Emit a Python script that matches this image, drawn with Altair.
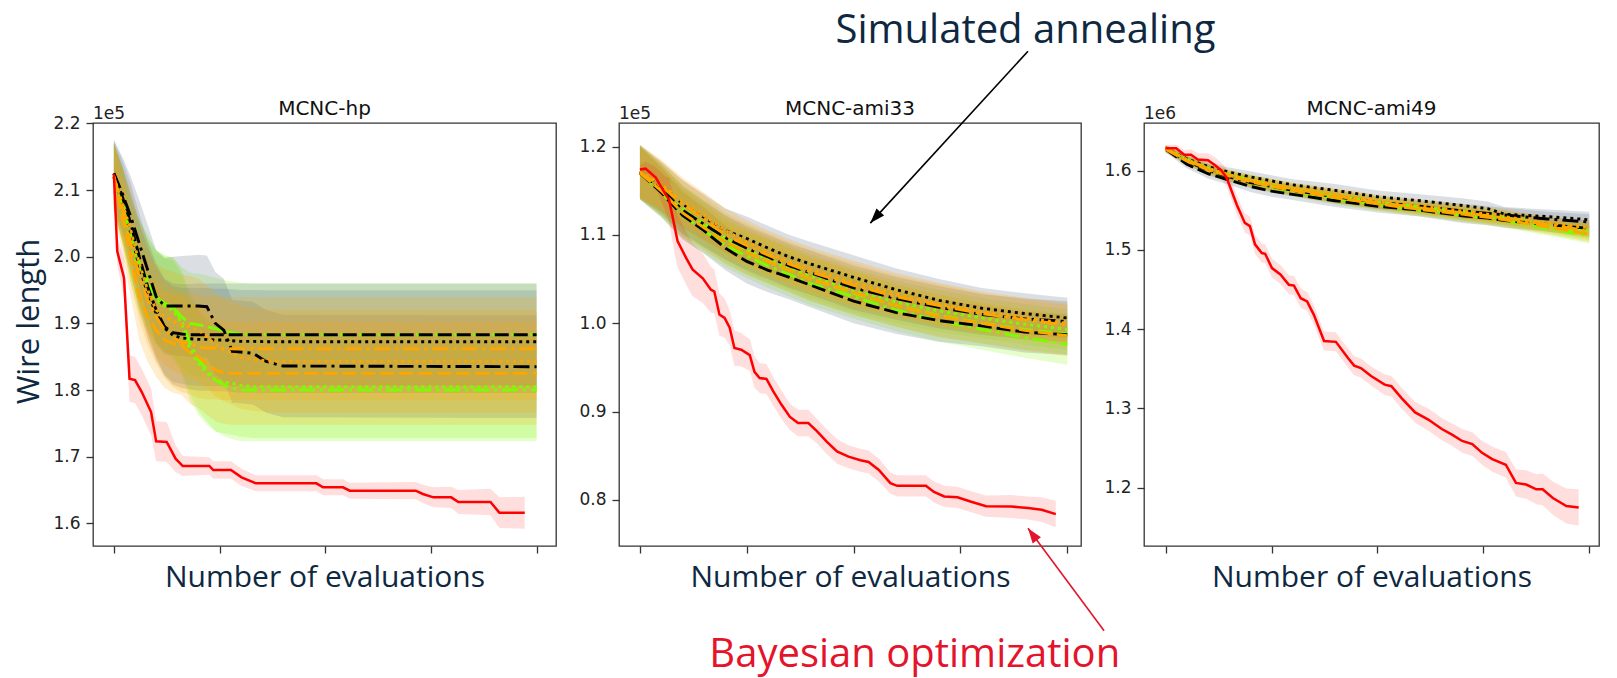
import altair as alt
import pandas as pd

NAVY = "#0e2841"
RED_TEXT = "#e3142b"

STYLES = ["dashed", "dotted", "dashdot"]
DASHES = [[14, 5], [3, 4], [16, 5, 3, 5]]
GROUPS = ["green", "black", "orange"]  # drawing order
LINE_COLORS = {"green": "#7cfc00", "black": "#000000", "orange": "#ffa500"}
BAND_COLORS = {"green": "#7cfc00", "black": "#708090", "orange": "#ffa500"}
BAND_OPACITY = {"green": 0.2, "black": 0.25, "orange": 0.2}
X_TICKS = [0, 25, 50, 75, 100]

# ---------------- MCNC-hp (x 1e5) ----------------
HP_SA_X = [0, 2, 4, 6, 8, 10, 12, 14, 16, 18, 20, 22, 24, 26, 28, 30, 33, 36, 40, 100]
HP_BLACK_DASHED = [2.125, 2.09, 2.05, 2.00, 1.955, 1.92, 1.895, 1.886, 1.884, 1.883, 1.883, 1.883, 1.883, 1.883, 1.883, 1.883, 1.883, 1.883, 1.883, 1.883]
HP_BLACK_DOTTED = [2.12, 2.08, 2.035, 1.985, 1.945, 1.915, 1.893, 1.882, 1.878, 1.877, 1.876, 1.876, 1.875, 1.875, 1.874, 1.873, 1.873, 1.8725, 1.8725, 1.8725]
HP_BLACK_DASHDOT = [2.125, 2.095, 2.06, 2.02, 1.98, 1.94, 1.926, 1.926, 1.926, 1.926, 1.926, 1.925, 1.90, 1.89, 1.858, 1.857, 1.855, 1.843, 1.836, 1.835]
HP_ORANGE_DASHDOT = [2.12, 2.075, 2.02, 1.97, 1.935, 1.91, 1.89, 1.878, 1.872, 1.87, 1.865, 1.863, 1.863, 1.862, 1.862, 1.862, 1.862, 1.862, 1.862, 1.862]
HP_ORANGE_DOTTED = [2.12, 2.08, 2.04, 1.99, 1.95, 1.92, 1.91, 1.903, 1.898, 1.895, 1.89, 1.88, 1.868, 1.86, 1.855, 1.849, 1.846, 1.844, 1.843, 1.843]
HP_ORANGE_DASHED = [2.12, 2.06, 2.00, 1.94, 1.91, 1.89, 1.875, 1.87, 1.868, 1.855, 1.85, 1.84, 1.83, 1.826, 1.825, 1.825, 1.825, 1.825, 1.825, 1.825]
HP_GREEN_DASHED = [2.12, 2.08, 2.03, 1.99, 1.965, 1.94, 1.93, 1.925, 1.91, 1.90, 1.898, 1.895, 1.892, 1.888, 1.886, 1.884, 1.883, 1.883, 1.883, 1.883]
HP_GREEN_DOTTED = [2.12, 2.075, 2.02, 1.98, 1.955, 1.935, 1.926, 1.92, 1.90, 1.86, 1.84, 1.825, 1.815, 1.812, 1.81, 1.807, 1.805, 1.805, 1.805, 1.805]
HP_GREEN_DASHDOT = [2.12, 2.08, 2.03, 1.99, 1.96, 1.94, 1.93, 1.925, 1.905, 1.87, 1.845, 1.83, 1.815, 1.808, 1.803, 1.80, 1.80, 1.80, 1.80, 1.80]
HP_SA_STD = [0.05, 0.055, 0.06, 0.065, 0.068, 0.07, 0.072, 0.074, 0.075, 0.076, 0.077, 0.077, 0.077, 0.077, 0.077, 0.077, 0.077, 0.077, 0.077, 0.077]

HP_BO_X = [0, 0.8, 2.4, 3.7, 5, 6.6, 8.8, 10, 12.5, 14.6, 16.3, 22.6, 23.5, 27.7, 30.2, 33.6, 47.9, 49.5, 54.2, 55.8, 71.4, 73.1, 75.6, 79.8, 81.5, 89.1, 91.2, 97.2]
HP_BO = [2.124, 2.008, 1.968, 1.817, 1.815, 1.797, 1.767, 1.723, 1.722, 1.697, 1.686, 1.686, 1.68, 1.68, 1.669, 1.66, 1.66, 1.654, 1.654, 1.649, 1.649, 1.644, 1.639, 1.639, 1.632, 1.632, 1.616, 1.616]
HP_BO_STD = [0.01, 0.02, 0.03, 0.035, 0.035, 0.035, 0.035, 0.03, 0.03, 0.02, 0.015, 0.013, 0.013, 0.013, 0.013, 0.012, 0.012, 0.012, 0.012, 0.012, 0.013, 0.014, 0.015, 0.016, 0.018, 0.02, 0.023, 0.024]

# ---------------- MCNC-ami33 (x 1e5) ----------------
AMI33_SA_X = [0, 5, 10, 15, 20, 25, 30, 35, 40, 50, 60, 70, 80, 90, 100]
AMI33_BLACK_DASHED = [1.170, 1.148, 1.122, 1.105, 1.085, 1.070, 1.060, 1.052, 1.043, 1.025, 1.012, 1.003, 0.997, 0.990, 0.987]
AMI33_BLACK_DOTTED = [1.172, 1.155, 1.135, 1.120, 1.105, 1.096, 1.085, 1.075, 1.067, 1.052, 1.038, 1.026, 1.017, 1.011, 1.006]
AMI33_BLACK_DASHDOT = [1.171, 1.152, 1.128, 1.112, 1.097, 1.085, 1.075, 1.065, 1.057, 1.040, 1.028, 1.018, 1.010, 1.005, 1.002]
AMI33_ORANGE_DASHDOT = [1.171, 1.155, 1.135, 1.118, 1.100, 1.088, 1.077, 1.067, 1.058, 1.043, 1.030, 1.020, 1.011, 1.004, 0.998]
AMI33_ORANGE_DOTTED = [1.172, 1.157, 1.138, 1.122, 1.105, 1.092, 1.080, 1.070, 1.061, 1.046, 1.033, 1.022, 1.013, 1.006, 1.000]
AMI33_ORANGE_DASHED = [1.170, 1.150, 1.125, 1.108, 1.092, 1.080, 1.070, 1.060, 1.050, 1.035, 1.020, 1.008, 1.000, 0.992, 0.986]
AMI33_GREEN_DASHED = [1.171, 1.150, 1.126, 1.110, 1.093, 1.080, 1.070, 1.060, 1.050, 1.034, 1.020, 1.009, 1.000, 0.993, 0.988]
AMI33_GREEN_DOTTED = [1.171, 1.153, 1.130, 1.113, 1.097, 1.083, 1.072, 1.063, 1.053, 1.037, 1.024, 1.014, 1.006, 0.999, 0.993]
AMI33_GREEN_DASHDOT = [1.170, 1.148, 1.122, 1.105, 1.088, 1.076, 1.065, 1.055, 1.045, 1.030, 1.015, 1.003, 0.993, 0.984, 0.976]
AMI33_SA_STD = [0.030, 0.028, 0.027, 0.026, 0.025, 0.025, 0.025, 0.025, 0.025, 0.025, 0.024, 0.024, 0.023, 0.023, 0.023]

AMI33_BO_X = [0, 1.3, 3.7, 6, 6.8, 8, 8.8, 10.8, 12.3, 14.7, 16.6, 17.4, 18.6, 19.8, 21, 22.1, 23.7, 25.7, 26.8, 28, 29.6, 31.2, 33.1, 35.1, 37, 39.4, 41.4, 43.7, 46.1, 48.8, 51.6, 53.5, 55.9, 58.6, 60.2, 66.9, 68.8, 71.2, 74.3, 77.5, 81, 86.9, 90.8, 94, 97.3]
AMI33_BO = [1.174, 1.175, 1.165, 1.146, 1.14, 1.112, 1.093, 1.074, 1.061, 1.051, 1.038, 1.036, 1.01, 1.006, 0.995, 0.972, 0.97, 0.964, 0.945, 0.938, 0.937, 0.923, 0.908, 0.894, 0.887, 0.887, 0.878, 0.866, 0.855, 0.849, 0.845, 0.843, 0.834, 0.819, 0.816, 0.816, 0.809, 0.804, 0.803, 0.798, 0.793, 0.7925, 0.791, 0.789, 0.784]
AMI33_BO_STD = [0.005, 0.008, 0.012, 0.02, 0.025, 0.03, 0.03, 0.03, 0.03, 0.028, 0.026, 0.025, 0.024, 0.022, 0.02, 0.02, 0.019, 0.018, 0.018, 0.017, 0.017, 0.016, 0.016, 0.015, 0.015, 0.015, 0.014, 0.014, 0.014, 0.013, 0.013, 0.013, 0.013, 0.012, 0.012, 0.012, 0.012, 0.012, 0.012, 0.012, 0.012, 0.013, 0.013, 0.014, 0.015]

# ---------------- MCNC-ami49 (x 1e6) ----------------
AMI49_SA_X = [0, 5, 10, 15, 20, 25, 30, 40, 50, 60, 70, 76, 80, 90, 100]
AMI49_BLACK_DASHED = [1.627, 1.608, 1.596, 1.588, 1.580, 1.574, 1.570, 1.562, 1.555, 1.550, 1.543, 1.540, 1.537, 1.532, 1.527]
AMI49_BLACK_DOTTED = [1.628, 1.615, 1.605, 1.598, 1.592, 1.587, 1.582, 1.575, 1.567, 1.562, 1.556, 1.552, 1.545, 1.542, 1.538]
AMI49_BLACK_DASHDOT = [1.627, 1.612, 1.600, 1.592, 1.585, 1.580, 1.575, 1.567, 1.560, 1.555, 1.549, 1.546, 1.544, 1.539, 1.535]
AMI49_ORANGE_DASHDOT = [1.628, 1.613, 1.602, 1.594, 1.587, 1.582, 1.577, 1.568, 1.560, 1.553, 1.547, 1.543, 1.540, 1.532, 1.524]
AMI49_ORANGE_DOTTED = [1.628, 1.614, 1.603, 1.595, 1.588, 1.583, 1.578, 1.570, 1.562, 1.556, 1.549, 1.545, 1.542, 1.534, 1.528]
AMI49_ORANGE_DASHED = [1.627, 1.612, 1.601, 1.593, 1.586, 1.580, 1.575, 1.566, 1.558, 1.551, 1.545, 1.541, 1.538, 1.529, 1.520]
AMI49_GREEN_DASHED = [1.628, 1.614, 1.603, 1.595, 1.588, 1.582, 1.577, 1.568, 1.560, 1.554, 1.548, 1.544, 1.541, 1.532, 1.525]
AMI49_GREEN_DOTTED = [1.628, 1.613, 1.602, 1.594, 1.587, 1.581, 1.576, 1.567, 1.559, 1.552, 1.546, 1.542, 1.539, 1.530, 1.522]
AMI49_GREEN_DASHDOT = [1.627, 1.612, 1.600, 1.592, 1.585, 1.579, 1.574, 1.565, 1.557, 1.550, 1.544, 1.540, 1.537, 1.527, 1.518]
AMI49_SA_STD = [0.004, 0.005, 0.006, 0.006, 0.007, 0.007, 0.007, 0.008, 0.008, 0.008, 0.009, 0.009, 0.009, 0.009, 0.010]

AMI49_BO_X = [0, 2.5, 4.4, 6, 7.6, 10, 11.6, 13.2, 14.4, 16.8, 18.7, 19.9, 21.1, 22.7, 23.5, 25.1, 27.1, 29.1, 30.3, 31.9, 33.4, 35, 37.4, 40.2, 43, 44.5, 46.1, 48.5, 51.7, 53.3, 55.7, 58.9, 62, 65.2, 67.6, 70, 72.4, 74.7, 77.1, 80.3, 82.7, 85.1, 87.5, 89, 91.4, 94.6, 97.5]
AMI49_BO = [1.628, 1.628, 1.62, 1.62, 1.614, 1.613, 1.607, 1.6, 1.591, 1.557, 1.534, 1.53, 1.507, 1.496, 1.495, 1.477, 1.469, 1.456, 1.455, 1.439, 1.435, 1.418, 1.385, 1.384, 1.364, 1.354, 1.351, 1.341, 1.33, 1.328, 1.313, 1.295, 1.286, 1.274, 1.267, 1.259, 1.255, 1.244, 1.236, 1.229, 1.206, 1.204, 1.198, 1.198, 1.187, 1.177, 1.175]
AMI49_BO_STD = [0.004, 0.005, 0.006, 0.007, 0.008, 0.009, 0.01, 0.01, 0.011, 0.012, 0.012, 0.012, 0.012, 0.012, 0.012, 0.012, 0.012, 0.012, 0.012, 0.012, 0.012, 0.012, 0.012, 0.012, 0.012, 0.012, 0.012, 0.012, 0.013, 0.013, 0.013, 0.013, 0.014, 0.014, 0.014, 0.015, 0.015, 0.015, 0.016, 0.016, 0.017, 0.018, 0.019, 0.02, 0.021, 0.022, 0.023]

# ---------------- annotations (in MCNC-ami33 data coordinates) ----------------
SA_LABEL = {"x": 90.2, "y": 1.317, "text": "Simulated annealing"}
BO_LABEL = {"x": 64.3, "y": 0.6115, "text": "Bayesian optimization"}
SA_ARROW = {"x": 90.8, "y": 1.308, "x2": 53.9, "y2": 1.1134, "angle": 222}
BO_ARROW = {"x": 108.6, "y": 0.652, "x2": 90.8, "y2": 0.768, "angle": 324}


def sa_frame(xs, series, std):
    rows = []
    for grp in GROUPS:
        for style in STYLES:
            for xv, yv, sv in zip(xs, series[grp][style], std):
                rows.append({"x": xv, "y": yv, "lo": yv - sv, "hi": yv + sv,
                             "grp": grp, "style": style})
    return pd.DataFrame(rows)


def bo_frame(xs, ys, std):
    return pd.DataFrame({"x": xs, "y": ys,
                         "lo": [a - b for a, b in zip(ys, std)],
                         "hi": [a + b for a, b in zip(ys, std)]})


def panel(title, exp_label, sa_df, bo_df, xdom, ydom, yticks, width, height,
          ytitle=None, extra=()):
    xs = alt.Scale(domain=xdom, nice=False, zero=False)
    ys = alt.Scale(domain=ydom, nice=False, zero=False)
    xaxis = alt.Axis(values=X_TICKS, labels=False, tickSize=7,
                     title="Number of evaluations", titleFont="Open Sans",
                     titleFontSize=30, titleFontWeight="normal", titleColor=NAVY,
                     titleY=40, titleBaseline="alphabetic")
    ykw = dict(values=yticks, format=".1f", tickSize=7, labelPadding=6,
               labelFont="DejaVu Sans", labelFontSize=17, labelColor="#222222")
    if ytitle:
        yaxis = alt.Axis(title=ytitle, titleFont="Open Sans", titleFontSize=31,
                         titleFontWeight="normal", titleColor=NAVY, titleAngle=270,
                         titleBaseline="middle", titleAlign="center",
                         titleX=-64, titleY=198, **ykw)
    else:
        yaxis = alt.Axis(title=None, **ykw)
    X = alt.X("x:Q", scale=xs, axis=xaxis)
    dash = alt.StrokeDash("style:N", scale=alt.Scale(domain=STYLES, range=DASHES), legend=None)

    layers = []
    for grp in GROUPS:
        layers.append(
            alt.Chart(sa_df[sa_df.grp == grp]).mark_area(
                color=BAND_COLORS[grp], fillOpacity=BAND_OPACITY[grp], strokeWidth=0
            ).encode(x=X, y=alt.Y("lo:Q", scale=ys, axis=yaxis), y2="hi:Q", detail="style:N")
        )
    layers.append(
        alt.Chart(bo_df).mark_area(color="#ff0000", fillOpacity=0.13, strokeWidth=0)
        .encode(x=X, y=alt.Y("lo:Q", scale=ys, axis=yaxis), y2="hi:Q")
    )
    for grp in GROUPS:
        layers.append(
            alt.Chart(sa_df[sa_df.grp == grp]).mark_line(
                color=LINE_COLORS[grp], strokeWidth=2.9
            ).encode(x=X, y=alt.Y("y:Q", scale=ys, axis=yaxis), strokeDash=dash)
        )
    layers.append(
        alt.Chart(bo_df).mark_line(color="#ff0000", strokeWidth=2.5)
        .encode(x=X, y=alt.Y("y:Q", scale=ys, axis=yaxis))
    )
    # scale-offset label ("1e5"/"1e6") and panel title, drawn as text above the frame
    layers.append(
        alt.Chart(pd.DataFrame({"t": [exp_label]})).mark_text(
            align="left", baseline="alphabetic", font="DejaVu Sans", fontSize=17,
            color="#222222"
        ).encode(x=alt.value(0), y=alt.value(-4), text="t:N")
    )
    layers.append(
        alt.Chart(pd.DataFrame({"t": [title]})).mark_text(
            align="center", baseline="alphabetic", font="DejaVu Sans", fontSize=20,
            color="#111111"
        ).encode(x=alt.value(width / 2), y=alt.value(-8.5), text="t:N")
    )
    for make in extra:
        layers.append(make(X, xs, ys))
    return alt.layer(*layers).properties(width=width, height=height)


def ann_text(label, color, size):
    def make(X, xs, ys):
        return alt.Chart(pd.DataFrame([label])).mark_text(
            font="Open Sans", fontSize=size, color=color, align="center",
            baseline="alphabetic"
        ).encode(x=alt.X("x:Q", scale=xs), y=alt.Y("y:Q", scale=ys), text="text:N")
    return make


def ann_arrow(arrow, color):
    def make(X, xs, ys):
        df = pd.DataFrame([arrow])
        shaft = alt.Chart(df).mark_rule(color=color, strokeWidth=1.6).encode(
            x=alt.X("x:Q", scale=xs), y=alt.Y("y:Q", scale=ys), x2="x2:Q", y2="y2:Q")
        head = alt.Chart(df).mark_point(
            shape="M0,0L-0.55,1.6L0.55,1.6Z", filled=True, size=350,
            angle=arrow["angle"], color=color, opacity=1
        ).encode(x=alt.X("x2:Q", scale=xs), y=alt.Y("y2:Q", scale=ys))
        return alt.layer(shaft, head)
    return make


hp_series = {
    "black": {"dashed": HP_BLACK_DASHED, "dotted": HP_BLACK_DOTTED, "dashdot": HP_BLACK_DASHDOT},
    "orange": {"dashed": HP_ORANGE_DASHED, "dotted": HP_ORANGE_DOTTED, "dashdot": HP_ORANGE_DASHDOT},
    "green": {"dashed": HP_GREEN_DASHED, "dotted": HP_GREEN_DOTTED, "dashdot": HP_GREEN_DASHDOT},
}
ami33_series = {
    "black": {"dashed": AMI33_BLACK_DASHED, "dotted": AMI33_BLACK_DOTTED, "dashdot": AMI33_BLACK_DASHDOT},
    "orange": {"dashed": AMI33_ORANGE_DASHED, "dotted": AMI33_ORANGE_DOTTED, "dashdot": AMI33_ORANGE_DASHDOT},
    "green": {"dashed": AMI33_GREEN_DASHED, "dotted": AMI33_GREEN_DOTTED, "dashdot": AMI33_GREEN_DASHDOT},
}
ami49_series = {
    "black": {"dashed": AMI49_BLACK_DASHED, "dotted": AMI49_BLACK_DOTTED, "dashdot": AMI49_BLACK_DASHDOT},
    "orange": {"dashed": AMI49_ORANGE_DASHED, "dotted": AMI49_ORANGE_DOTTED, "dashdot": AMI49_ORANGE_DASHDOT},
    "green": {"dashed": AMI49_GREEN_DASHED, "dotted": AMI49_GREEN_DOTTED, "dashdot": AMI49_GREEN_DASHDOT},
}

H = 423
p1 = panel("MCNC-hp", "1e5", sa_frame(HP_SA_X, hp_series, HP_SA_STD),
           bo_frame(HP_BO_X, HP_BO, HP_BO_STD), [-4.94, 104.6], [1.566, 2.2006],
           [1.6, 1.7, 1.8, 1.9, 2.0, 2.1, 2.2], 463, H, ytitle="Wire length")
p2 = panel("MCNC-ami33", "1e5", sa_frame(AMI33_SA_X, ami33_series, AMI33_SA_STD),
           bo_frame(AMI33_BO_X, AMI33_BO, AMI33_BO_STD), [-4.9, 103.2], [0.7479, 1.2267],
           [0.8, 0.9, 1.0, 1.1, 1.2], 462, H,
           extra=(ann_arrow(SA_ARROW, "#000000"), ann_arrow(BO_ARROW, RED_TEXT),
                  ann_text(SA_LABEL, NAVY, 40), ann_text(BO_LABEL, RED_TEXT, 40)))
p3 = panel("MCNC-ami49", "1e6", sa_frame(AMI49_SA_X, ami49_series, AMI49_SA_STD),
           bo_frame(AMI49_BO_X, AMI49_BO, AMI49_BO_STD), [-5.1, 102.3], [1.1265, 1.66],
           [1.2, 1.3, 1.4, 1.5, 1.6], 455, H)

chart = (
    alt.hconcat(p1, p2, p3, spacing=63, bounds="flush")
    .resolve_scale(x="independent", y="independent")
    .properties(padding={"left": 12, "top": 10, "right": 5, "bottom": 8},
                background="white")
    .configure_view(stroke="#333333", strokeWidth=1.3)
    .configure_axis(domain=False, grid=False, tickColor="#333333", tickWidth=1.3)
)

chart.save("out.html", embed_options={"renderer": "svg", "actions": False})
